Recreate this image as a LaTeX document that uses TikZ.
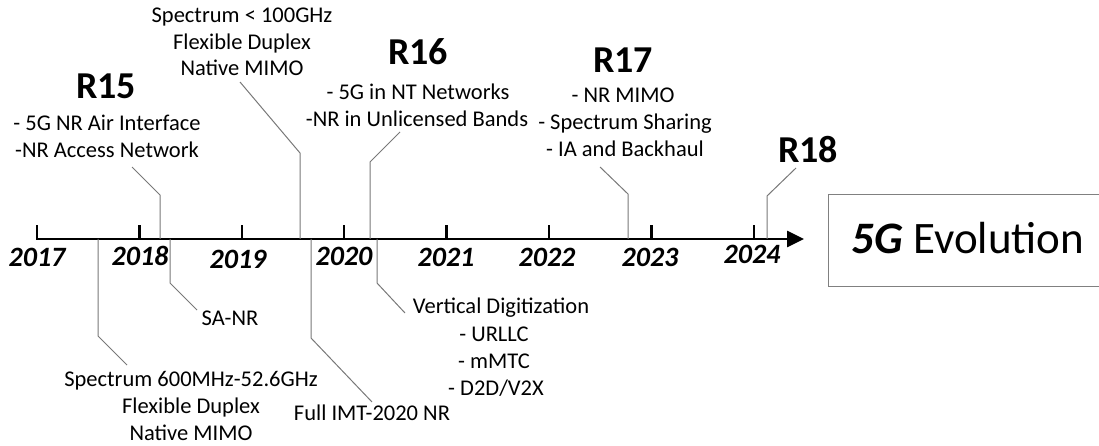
\documentclass[tikz,border=0pt]{standalone}
\usepackage{fontspec}
\setmainfont{Carlito}
\usetikzlibrary{arrows.meta}

\definecolor{leadgray}{RGB}{120,120,120}
\definecolor{boxgray}{RGB}{128,128,128}

\newcommand\txtbody{\fontsize{22.5}{27}\selectfont}
\newcommand\txtrel{\fontsize{38}{42}\selectfont\bfseries}
\newcommand\txtyear{\fontsize{28}{30}\selectfont\bfseries\itshape}
\newcommand\txtevo{\fontsize{45}{50}\selectfont}

\begin{document}
\begin{tikzpicture}[x=1pt,y=-1pt,
  lbl/.style={font=\txtbody, anchor=base, inner sep=0pt},
  rel/.style={font=\txtrel, anchor=base, inner sep=0pt},
  yr/.style={font=\txtyear, anchor=base, inner sep=0pt},
  leader/.style={draw=leadgray, line width=1pt},
  axisline/.style={line width=2.6pt, -{Triangle[length=17pt,width=16pt]}},
  tickmark/.style={line width=2.4pt},
]
\useasboundingbox (0,0) rectangle (1099,446);

% time axis
\coordinate (ax0) at (37,239);
\coordinate (ax1) at (804,239);
\draw[axisline] (ax0) -- (ax1);
\foreach \x in {37,139.4,241.8,344.2,446.6,549,651.4,753.8}
  \draw[tickmark] (\x,240) -- (\x,225);

% years
\node[yr] (y2017) at (37,266) {2017};
\node[yr] (y2018) at (140,265) {2018};
\node[yr] (y2019) at (238,268) {2019};
\node[yr] (y2020) at (344,265) {2020};
\node[yr] (y2021) at (446,266) {2021};
\node[yr] (y2022) at (547,266) {2022};
\node[yr] (y2023) at (650,266) {2023};
\node[yr] (y2024) at (752,263) {2024};

% releases above the axis
\node[rel] (r15) at (106,99) {R15};
\node[lbl] (r15a) at (107,131) {- 5G NR Air Interface};
\node[lbl] (r15b) at (107,158) {-NR Access Network};

\node[lbl] (sp1a) at (242,23) {Spectrum < 100GHz};
\node[lbl] (sp1b) at (242,50) {Flexible Duplex};
\node[lbl] (sp1c) at (242,76) {Native MIMO};

\node[rel] (r16) at (418,65) {R16};
\node[lbl] (r16a) at (418,100) {- 5G in NT Networks};
\node[lbl] (r16b) at (417,127) {-NR in Unlicensed Bands};

\node[rel] (r17) at (623,73) {R17};
\node[lbl] (r17a) at (623,103) {- NR MIMO};
\node[lbl] (r17b) at (625,130) {- Spectrum Sharing};
\node[lbl] (r17c) at (625,157) {- IA and Backhaul};

\node[rel] (r18) at (808,163) {R18};

% notes below the axis
\node[lbl] (sanr) at (230,325) {SA-NR};

\node[lbl] (sp2a) at (191,386) {Spectrum 600MHz-52.6GHz};
\node[lbl] (sp2b) at (191,413) {Flexible Duplex};
\node[lbl] (sp2c) at (191,440) {Native MIMO};

\node[lbl] (imt) at (372,420) {Full IMT-2020 NR};

\node[lbl] (vd) at (501,313) {Vertical Digitization};
\node[lbl] (vda) at (494,341) {- URLLC};
\node[lbl] (vdb) at (494,368) {- mMTC};
\node[lbl] (vdc) at (496,395) {- D2D/V2X};

% evolution box
\node[draw=boxgray, line width=1.2pt, minimum width=282pt, minimum height=92pt,
      inner sep=0pt, anchor=north west] (evo) at (828,194) {};
\node[font=\txtevo, anchor=base, inner sep=0pt] (evotext) at (968,253)
  {\textbf{\textit{5G}} Evolution};

% leader lines above the axis
\coordinate (a15) at (160,239);  \coordinate (k15) at (160,195);  \coordinate (e15) at (132,167);
\coordinate (asp) at (300,239);  \coordinate (ksp) at (300,153);  \coordinate (esp) at (240,82);
\coordinate (a16) at (370,239);  \coordinate (k16) at (370,162);  \coordinate (e16) at (400,132);
\coordinate (a17) at (628,239);  \coordinate (k17) at (628,194);  \coordinate (e17) at (600,167);
\coordinate (a18) at (767,239);  \coordinate (k18) at (767,196);  \coordinate (e18) at (796,168);
\draw[leader] (a15) -- (k15) -- (e15);
\draw[leader] (asp) -- (ksp) -- (esp);
\draw[leader] (a16) -- (k16) -- (e16);
\draw[leader] (a17) -- (k17) -- (e17);
\draw[leader] (a18) -- (k18) -- (e18);

% leader lines below the axis
\coordinate (bsp) at (98,239);   \coordinate (qsp) at (98,336);   \coordinate (fsp) at (127,365);
\coordinate (bsa) at (170,239);  \coordinate (qsa) at (170,283);  \coordinate (fsa) at (197,310);
\coordinate (bim) at (311,239);  \coordinate (qim) at (311,338);  \coordinate (fim) at (372,402);
\coordinate (bvd) at (377,239);  \coordinate (qvd) at (377,283);  \coordinate (fvd) at (405,313);
\draw[leader] (bsp) -- (qsp) -- (fsp);
\draw[leader] (bsa) -- (qsa) -- (fsa);
\draw[leader] (bim) -- (qim) -- (fim);
\draw[leader] (bvd) -- (qvd) -- (fvd);
\end{tikzpicture}
\end{document}
